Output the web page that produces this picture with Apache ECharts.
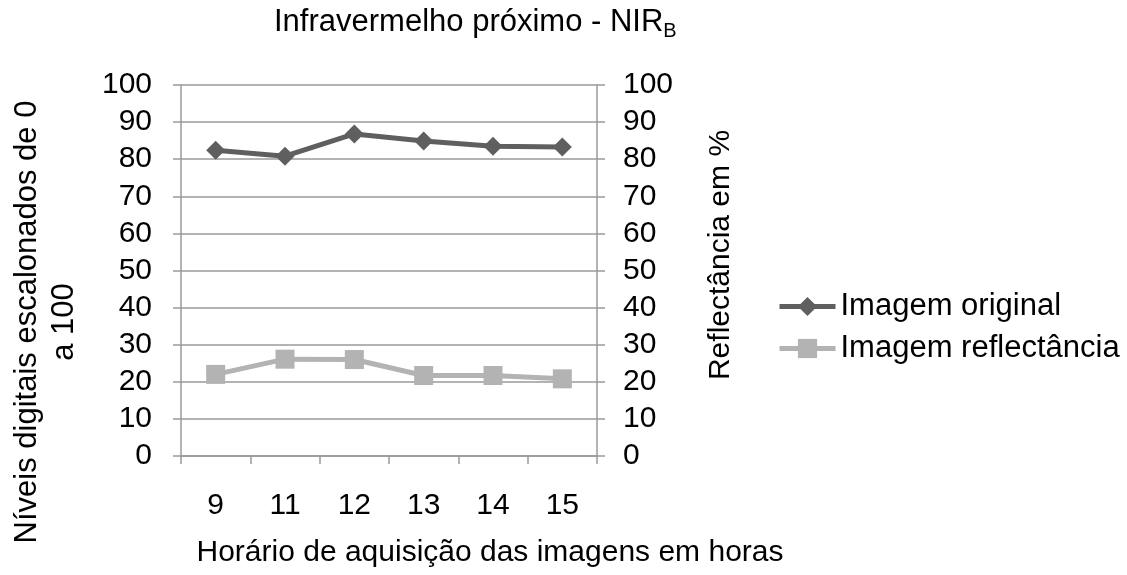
<!DOCTYPE html>
<html>
<head>
<meta charset="utf-8">
<title>Infravermelho próximo - NIR B</title>
<script src="https://cdn.jsdelivr.net/npm/echarts@6/dist/echarts.min.js"></script>
<style>
  html, body { margin: 0; padding: 0; background: #fff; }
  #chart { width: 1127px; height: 575px; }
</style>
</head>
<body>
<div id="chart"></div>
<script>
// horários (categorias do eixo x)
const horas = ['9', '11', '12', '13', '14', '15'];
// valores
const imagemOriginal = [82.4, 80.8, 86.8, 84.9, 83.5, 83.3];
const imagemReflectancia = [22.0, 26.1, 26.0, 21.7, 21.7, 20.8];

const nomes = ['Imagem original', 'Imagem reflectância'];
const corEscura = '#5f5f5f';
const corClara = '#b3b3b3';
const corGrade = '#9a9a9a';
const fonte = 'Liberation Sans, Arial, sans-serif';
const tam = 30;

const chart = echarts.init(document.getElementById('chart'));

// eixo y comum para os dois lados
const eixoY = (pos, grade) => ({
  type: 'value',
  position: pos,
  min: 0,
  max: 100,
  interval: 10,
  axisLine: { show: true, lineStyle: { color: corGrade, width: 1.5 } },
  axisTick: { show: true, length: 8, lineStyle: { color: corGrade, width: 1.5 } },
  axisLabel: { color: '#000', fontSize: tam, fontFamily: fonte, margin: pos === 'left' ? 29 : 26 },
  splitLine: { show: grade, lineStyle: { color: corGrade, width: 1.5 } }
});

const option = {
  animation: false,
  backgroundColor: '#fff',
  textStyle: { fontFamily: fonte },
  grid: { left: 181, right: 530, top: 85, bottom: 119 },
  xAxis: {
    type: 'category',
    data: horas,
    boundaryGap: true,
    axisLine: { lineStyle: { color: corGrade, width: 1.5 } },
    axisTick: { show: true, length: 8, alignWithLabel: false, lineStyle: { color: corGrade, width: 1.5 } },
    axisLabel: { color: '#000', fontSize: tam, fontFamily: fonte, margin: 35 }
  },
  yAxis: [eixoY('left', true), eixoY('right', false)],
  legend: {
    orient: 'vertical',
    left: 777,
    top: 291,
    padding: 0,
    itemWidth: 56,
    itemHeight: 24,
    itemGap: 11,
    lineStyle: { width: 5 },
    textStyle: { color: '#000', fontSize: 31, fontFamily: fonte },
    data: nomes
  },
  graphic: [
    {
      type: 'text',
      left: 274,
      top: 7,
      style: {
        text: '{a|Infravermelho próximo - NIR}{b|B}',
        rich: {
          a: { fontSize: 31, fontFamily: fonte, fill: '#000', lineHeight: 36, padding: [0, 0, 3, 0], verticalAlign: 'bottom' },
          b: { fontSize: 20, fontFamily: fonte, fill: '#000', lineHeight: 20, verticalAlign: 'bottom' }
        }
      }
    },
    {
      type: 'text',
      x: 46,
      y: 322,
      rotation: Math.PI / 2,
      style: {
        text: 'Níveis digitais escalonados de 0\na 100',
        fontSize: 31,
        fontFamily: fonte,
        fill: '#000',
        lineHeight: 37,
        align: 'center',
        verticalAlign: 'middle'
      }
    },
    {
      type: 'text',
      x: 721,
      y: 255,
      rotation: Math.PI / 2,
      style: {
        text: 'Reflectância em %',
        fontSize: tam,
        fontFamily: fonte,
        fill: '#000',
        align: 'center',
        verticalAlign: 'middle'
      }
    },
    {
      type: 'text',
      x: 490,
      y: 553,
      style: {
        text: 'Horário de aquisição das imagens em horas',
        fontSize: tam,
        fontFamily: fonte,
        fill: '#000',
        align: 'center',
        verticalAlign: 'middle'
      }
    }
  ],
  series: [
    {
      name: nomes[0],
      type: 'line',
      yAxisIndex: 0,
      data: imagemOriginal,
      symbol: 'diamond',
      symbolSize: 19,
      lineStyle: { color: corEscura, width: 5 },
      itemStyle: { color: corEscura }
    },
    {
      name: nomes[1],
      type: 'line',
      yAxisIndex: 1,
      data: imagemReflectancia,
      symbol: 'rect',
      symbolSize: 19,
      lineStyle: { color: corClara, width: 5 },
      itemStyle: { color: corClara }
    }
  ]
};

chart.setOption(option);
</script>
</body>
</html>
